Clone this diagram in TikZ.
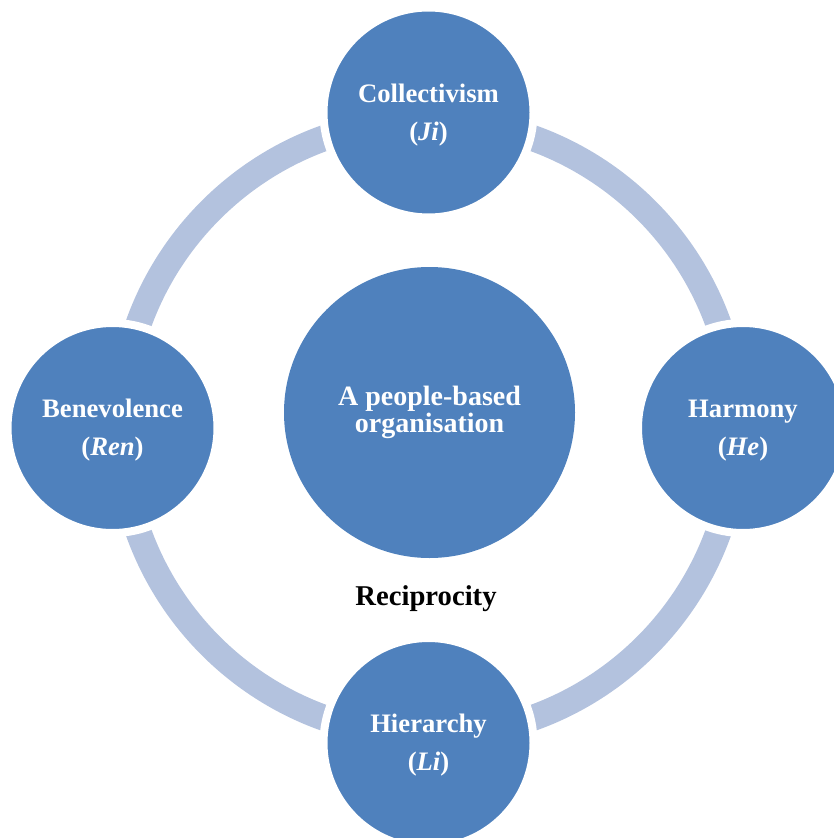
\documentclass[tikz,border=0pt]{standalone}
\usepackage{fontspec}
\setmainfont{Liberation Serif}
\definecolor{nodeblue}{HTML}{4F81BD}
\definecolor{ringblue}{HTML}{B3C2DE}
\newcommand{\toppad}{\rule{0pt}{17.5pt}}
\begin{document}
\begin{tikzpicture}[x=0.75pt,y=-0.75pt,
  outer/.style={circle, fill=nodeblue, draw=white, line width=6pt,
    minimum size=157.5pt, inner sep=0pt, text=white, align=center,
    font=\fontsize{20}{24}\selectfont\bfseries},
  hub/.style={circle, fill=nodeblue, minimum size=218.25pt, inner sep=0pt,
    text=white, align=center, font=\fontsize{21}{20.5}\selectfont\bfseries},
  caption/.style={anchor=base, text=black, font=\fontsize{21.5}{24}\selectfont\bfseries}]
\clip (0,0) rectangle (834,838);
\coordinate (mid) at (428.5,428);
\draw[ringblue, line width=19.5pt] (mid) circle[radius=231pt];
\node[hub] (hub) at (429.5,412.5) {A people-based\\organisation};
\node[outer] (ji) at (428.5,112.5) {\toppad Collectivism\\[4.5pt](\textit{Ji})};
\node[outer] (he) at (743,428) {\toppad Harmony\\[4.5pt](\textit{He})};
\node[outer] (li) at (428.5,743) {\toppad Hierarchy\\[4.5pt](\textit{Li})};
\node[outer] (ren) at (112.5,428) {\toppad Benevolence\\[4.5pt](\textit{Ren})};
\node[caption] (rec) at (426,605) {Reciprocity};
\end{tikzpicture}
\end{document}
